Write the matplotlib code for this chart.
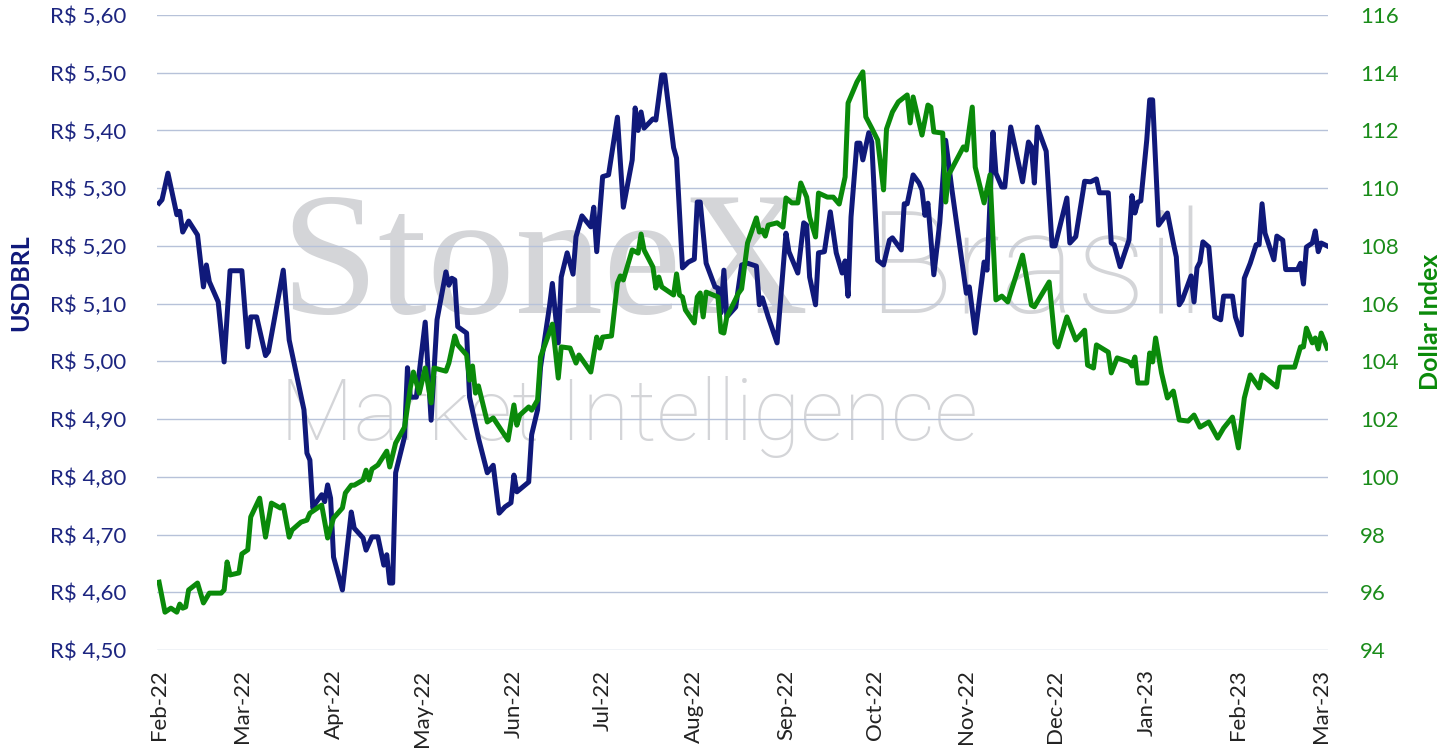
import numpy as np
import pandas as pd
import matplotlib
matplotlib.use("Agg")
import matplotlib.pyplot as plt
import matplotlib.dates as mdates
from matplotlib.ticker import FuncFormatter

# Datos (dias contados desde 2022-02-01)
start = pd.Timestamp("2022-02-01")

usd_days = [0, 1, 3, 6, 7, 8, 10, 13, 15, 16, 17, 20, 22, 24, 28, 30, 31, 33, 36, 37,
            42, 44, 49, 50, 51, 52, 53, 55, 56, 57, 58, 59, 62, 65, 66, 69, 70, 72, 74, 76,
            77, 78, 79, 80, 83, 84, 85, 87, 90, 92, 94, 97, 98, 99, 100, 101, 104, 105, 108, 111,
            113, 115, 117, 119, 120, 121, 125, 126, 128, 129, 132, 133, 135, 136, 138, 140, 141, 143, 146, 147,
            148, 150, 152, 155, 157, 160, 161, 162, 163, 164, 167, 168, 170, 171, 174, 175, 177, 179, 181, 182,
            183, 185, 188, 189, 190, 191, 192, 195, 197, 199, 202, 203, 204, 206, 209, 212, 213, 216, 218, 219,
            220, 222, 223, 225, 227, 229, 231, 232, 233, 234, 236, 237, 238, 240, 241, 243, 245, 247, 248, 251,
            252, 253, 255, 257, 258, 259, 260, 262, 264, 266, 268, 273, 274, 276, 279, 280, 282, 283, 285, 286,
            288, 292, 294, 295, 296, 297, 300, 302, 303, 307, 308, 310, 313, 315, 317, 318, 321, 322, 323, 325,
            328, 329, 330, 331, 332, 334, 335, 336, 338, 340, 341, 343, 344, 345, 346, 349, 350, 351, 352, 353,
            355, 357, 359, 360, 363, 364, 366, 367, 369, 371, 372, 373, 374, 377, 378, 380, 381, 385, 386, 387,
            388, 390, 391, 392, 393, 395]
usd_vals = [5.274, 5.28, 5.326, 5.254, 5.26, 5.224, 5.243, 5.219, 5.129, 5.167, 5.138, 5.103, 4.999, 5.157, 5.157, 5.025, 5.077, 5.077, 5.01, 5.017,
            5.158, 5.037, 4.916, 4.841, 4.829, 4.746, 4.755, 4.769, 4.757, 4.786, 4.763, 4.661, 4.604, 4.739, 4.711, 4.694, 4.673, 4.696, 4.696, 4.647,
            4.665, 4.616, 4.616, 4.807, 4.869, 4.989, 4.938, 4.938, 5.068, 4.898, 5.072, 5.155, 5.132, 5.144, 5.141, 5.06, 5.049, 4.938, 4.867, 4.807,
            4.82, 4.737, 4.748, 4.755, 4.803, 4.774, 4.791, 4.873, 4.916, 4.99, 5.094, 5.135, 5.032, 5.146, 5.188, 5.151, 5.216, 5.252, 5.233, 5.267,
            5.19, 5.32, 5.323, 5.423, 5.267, 5.349, 5.439, 5.40, 5.432, 5.404, 5.42, 5.418, 5.496, 5.496, 5.37, 5.352, 5.162, 5.172, 5.177, 5.276,
            5.276, 5.17, 5.129, 5.127, 5.084, 5.158, 5.077, 5.094, 5.167, 5.17, 5.165, 5.098, 5.11, 5.077, 5.032, 5.222, 5.19, 5.153, 5.24, 5.236,
            5.146, 5.098, 5.188, 5.19, 5.259, 5.188, 5.153, 5.174, 5.113, 5.25, 5.378, 5.378, 5.349, 5.396, 5.38, 5.175, 5.167, 5.21, 5.214, 5.193,
            5.273, 5.273, 5.323, 5.309, 5.297, 5.253, 5.274, 5.15, 5.24, 5.383, 5.302, 5.118, 5.129, 5.049, 5.172, 5.158, 5.397, 5.326, 5.302, 5.302,
            5.406, 5.311, 5.38, 5.372, 5.309, 5.406, 5.364, 5.20, 5.20, 5.283, 5.205, 5.216, 5.312, 5.311, 5.316, 5.292, 5.292, 5.205, 5.202, 5.164,
            5.21, 5.287, 5.257, 5.276, 5.278, 5.383, 5.453, 5.453, 5.236, 5.25, 5.257, 5.205, 5.181, 5.098, 5.106, 5.148, 5.103, 5.162, 5.172, 5.207,
            5.198, 5.077, 5.072, 5.113, 5.113, 5.077, 5.046, 5.144, 5.17, 5.202, 5.202, 5.273, 5.222, 5.176, 5.217, 5.21, 5.159, 5.159, 5.17, 5.134,
            5.198, 5.205, 5.226, 5.19, 5.205, 5.20]

dxy_days = [0, 2, 4, 6, 7, 8, 9, 10, 13, 15, 17, 21, 22, 23, 24, 27, 28, 30, 31, 34,
            36, 38, 41, 42, 44, 45, 48, 50, 51, 55, 57, 59, 62, 63, 65, 66, 69, 70, 71, 72,
            74, 77, 78, 80, 83, 85, 86, 88, 90, 92, 93, 97, 98, 100, 101, 104, 105, 106, 107, 108,
            111, 113, 118, 120, 121, 122, 125, 126, 128, 129, 133, 134, 135, 136, 139, 141, 142, 146, 148, 149,
            150, 153, 155, 156, 157, 160, 162, 163, 164, 167, 168, 169, 170, 174, 175, 176, 177, 178, 181, 182,
            183, 184, 185, 189, 190, 191, 192, 196, 197, 199, 202, 203, 204, 205, 206, 209, 211, 212, 214, 216,
            217, 219, 220, 222, 223, 226, 228, 230, 232, 233, 236, 238, 239, 241, 243, 245, 246, 248, 250, 253,
            254, 255, 258, 260, 261, 262, 265, 266, 267, 272, 273, 275, 276, 279, 281, 283, 285, 287, 292, 295,
            296, 301, 303, 304, 307, 310, 313, 314, 316, 317, 321, 322, 324, 328, 329, 330, 331, 334, 335, 336,
            337, 339, 341, 343, 345, 348, 350, 352, 355, 358, 360, 363, 365, 367, 369, 372, 373, 378, 379, 384,
            386, 387, 388, 390, 391, 392, 393, 395]
dxy_vals = [96.35, 95.31, 95.45, 95.31, 95.59, 95.45, 95.49, 96.08, 96.32, 95.63, 95.97, 95.97, 96.08, 97.05, 96.6, 96.67, 97.33, 97.47, 98.61, 99.26,
            97.91, 99.09, 98.92, 99.02, 97.91, 98.16, 98.43, 98.5, 98.74, 99.02, 97.88, 98.57, 98.92, 99.44, 99.71, 99.71, 99.89, 100.23, 99.89, 100.27,
            100.41, 100.89, 100.34, 101.17, 101.72, 103.11, 103.63, 102.9, 103.77, 102.56, 103.77, 103.66, 103.94, 104.88, 104.57, 104.22, 103.35, 103.84, 102.9, 103.15,
            101.9, 102.04, 101.27, 102.49, 101.79, 102.14, 102.42, 102.31, 102.66, 104.15, 105.29, 104.39, 103.42, 104.5, 104.46, 103.94, 104.22, 103.63, 104.84, 104.46,
            104.84, 104.88, 106.71, 106.96, 106.82, 107.86, 107.75, 108.41, 107.86, 107.27, 106.54, 106.92, 106.58, 106.3, 107.03, 106.3, 106.23, 105.78, 105.33, 106.23,
            106.37, 105.54, 106.4, 106.23, 105.02, 104.98, 105.54, 106.37, 106.51, 108.1, 108.97, 108.48, 108.55, 108.34, 108.72, 108.8, 108.65, 109.66, 109.49, 109.49,
            110.18, 109.69, 109.0, 108.31, 109.83, 109.69, 109.69, 109.45, 110.39, 112.95, 113.68, 114.03, 112.47, 112.08, 111.67, 109.94, 112.05, 112.64, 112.99, 113.23,
            112.26, 113.16, 111.84, 112.88, 112.81, 111.95, 111.91, 109.52, 110.46, 111.43, 111.32, 112.81, 110.73, 109.49, 110.46, 106.13, 106.26, 106.06, 107.68, 105.95,
            105.89, 106.75, 104.64, 104.5, 105.54, 104.74, 105.08, 103.87, 103.77, 104.57, 104.32, 103.6, 104.12, 103.98, 103.84, 104.15, 103.25, 103.25, 104.29, 103.98,
            104.81, 103.6, 102.73, 102.97, 101.97, 101.93, 102.14, 101.72, 101.9, 101.34, 101.69, 102.07, 101.0, 102.73, 103.53, 103.08, 103.53, 103.11, 103.8, 103.8,
            104.5, 104.5, 105.15, 104.64, 104.81, 104.43, 104.98, 104.46]

usd_ticks = np.round(np.arange(4.50, 5.601, 0.10), 2)
dxy_ticks = np.arange(94, 117, 2)

NAVY = "#10197a"
GREEN = "#0a8a0a"
GRID = "#b7c2d9"
WATER = "#d4d5d8"

usd_dates = start + pd.to_timedelta(usd_days, unit="D")
dxy_dates = start + pd.to_timedelta(dxy_days, unit="D")

plt.rcParams["font.family"] = ["Lato", "DejaVu Sans"]

fig = plt.figure(figsize=(14.54, 7.54), dpi=100)
ax = fig.add_axes([157 / 1454, 104 / 754, 1171 / 1454, 635 / 754])
ax2 = ax.twinx()

# Marca de agua
def watermark(text, x, y, width, family, weight):
    t = ax.text(x / 1454, 1 - y / 754, text, transform=fig.transFigure, color=WATER,
                family=family, weight=weight, fontsize=100, ha="left", va="baseline", zorder=0.1)
    r = fig.canvas.get_renderer()
    w = t.get_window_extent(r).width
    t.set_fontsize(100 * width / w)
    return t

watermark("StoneX", 280, 313, 528, ["Liberation Serif", "DejaVu Serif"], "normal")
watermark("Brasil", 867, 313, 338, ["Roboto", "DejaVu Sans"], "light")
watermark("Market Intelligence", 280, 440, 698, ["Roboto", "DejaVu Sans"], "light")

ax.plot(usd_dates, usd_vals, color=NAVY, lw=3.6, solid_joinstyle="round", zorder=3)
ax2.plot(dxy_dates, dxy_vals, color=GREEN, lw=3.6, solid_joinstyle="round", zorder=3)

ax.set_ylim(4.50, 5.60)
ax.set_yticks(usd_ticks)
ax.yaxis.set_major_formatter(FuncFormatter(lambda v, p: "R$ " + f"{v:.2f}".replace(".", ",")))
ax2.set_ylim(94, 116)
ax2.set_yticks(dxy_ticks)

ax.set_xlim(start - pd.Timedelta(days=0.7), start + pd.Timedelta(days=395.3))
ax.xaxis.set_major_locator(mdates.MonthLocator())
ax.xaxis.set_major_formatter(mdates.DateFormatter("%b-%y"))

ax.grid(axis="y", color=GRID, lw=1.0, zorder=0.5)
ax.set_axisbelow(True)
for a in (ax, ax2):
    for s in a.spines.values():
        s.set_visible(False)

ax.tick_params(axis="x", length=0, pad=14, labelsize=16, labelcolor="#222222", labelrotation=90)
ax.tick_params(axis="y", length=0, pad=22, labelsize=16, labelcolor="#1c2580")
ax2.tick_params(axis="y", length=0, pad=23, labelsize=16, labelcolor="#1a8c1a")

fig.text(21 / 1454, 1 - 283 / 754, "USDBRL", rotation=90, ha="center", va="center",
         fontsize=18, weight="bold", color=NAVY)
fig.text(1430 / 1454, 1 - 322 / 754, "Dollar Index", rotation=90, ha="center", va="center",
         fontsize=18, weight="bold", color=GREEN)

fig.savefig("out.png", dpi=100, facecolor="white")
